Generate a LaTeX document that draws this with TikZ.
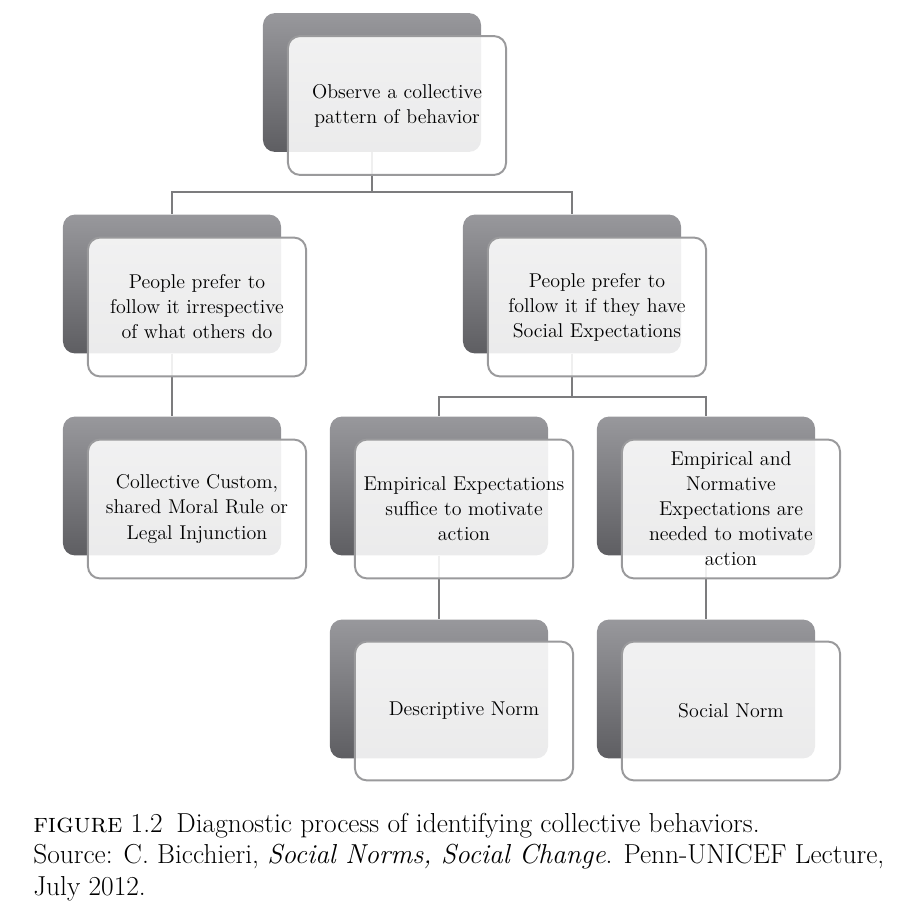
\documentclass[tikz,border=0pt]{standalone}
\usepackage{tikz}
\usetikzlibrary{calc}
\definecolor{backtop}{HTML}{98989C}
\definecolor{backbot}{HTML}{5E5E62}
\definecolor{edgegray}{HTML}{9A9A9C}
\definecolor{linkgray}{HTML}{7C7C7E}
\pgfdeclarelayer{bg}
\pgfsetlayers{bg,main}
\tikzset{
	backbox/.style={rectangle, rounded corners=3mm, minimum width=5.45cm, minimum height=3.47cm, top color=backtop, bottom color=backbot, draw=none, inner sep=0pt},
	frontbox/.style={rectangle, rounded corners=3mm, minimum width=5.45cm, minimum height=3.47cm, draw=edgegray, line width=1.4pt, fill=white, fill opacity=0.88, text opacity=1, align=center, text width=5.3cm, inner sep=0pt, font=\fontsize{14.2}{17.8}\selectfont},
	link/.style={draw=linkgray, line width=1.4pt}
}

\begin{document}
\begin{tikzpicture}[x=0.025cm, y=-0.025cm]
		%%%%% START %%%%%
		\useasboundingbox (0, 0) rectangle (922, 904);
		
		% back boxes
		\node[backbox] (observeB) at (372, 82.5) {};
		\node[backbox] (aloneB) at (172, 284) {};
		\node[backbox] (expectB) at (572, 284) {};
		\node[backbox] (customB) at (172, 486) {};
		\node[backbox] (empiricalB) at (439, 486) {};
		\node[backbox] (normativeB) at (706, 486) {};
		\node[backbox] (descB) at (439, 689) {};
		\node[backbox] (socialB) at (706, 689) {};
		
		% front boxes
		\node[frontbox] (observe) at (397, 105.5) {Observe a collective\\pattern of behavior};
		\node[frontbox] (alone) at (197, 307) {People prefer to\\follow it irrespective\\of what others do};
		\node[frontbox] (expect) at (597, 307) {People prefer to\\follow it if they have\\Social Expectations};
		\node[frontbox] (custom) at (197, 509) {Collective Custom,\\shared Moral Rule or\\Legal Injunction};
		\node[frontbox] (empirical) at (464, 509) {Empirical Expectations\\suffice to motivate\\action};
		\node[frontbox] (normative) at (731, 509) {Empirical and\\Normative\\Expectations are\\needed to motivate\\action};
		\node[frontbox] (desc) at (464, 711) {Descriptive Norm};
		\node[frontbox] (social) at (731, 711) {Social Norm};
		
		% connectors
		\coordinate (splitA) at (372, 192);
		\coordinate (splitB) at (572, 397);
		\begin{pgfonlayer}{bg}
		\draw[link] (observeB.south) -- (splitA) -| (aloneB.north);
		\draw[link] (splitA) -| (expectB.north);
		\draw[link] (aloneB.south) -- (customB.north);
		\draw[link] (expectB.south) -- (splitB) -| (empiricalB.north);
		\draw[link] (splitB) -| (normativeB.north);
		\draw[link] (empiricalB.south) -- (descB.north);
		\draw[link] (normativeB.south) -- (socialB.north);
		\end{pgfonlayer}
		
		% caption (base = last line)
		\node[anchor=base west, align=left, inner sep=0pt, font=\fontsize{19.5}{22.3}\selectfont] (caption) at (33, 895)
		{\textsc{figure} 1.2\enspace Diagnostic process of identifying collective behaviors.\\
		Source: C. Bicchieri, \textit{Social Norms, Social Change}. Penn-UNICEF Lecture,\\
		July 2012.};
		
		%%%%% END %%%%%
	\end{tikzpicture}
\end{document}
